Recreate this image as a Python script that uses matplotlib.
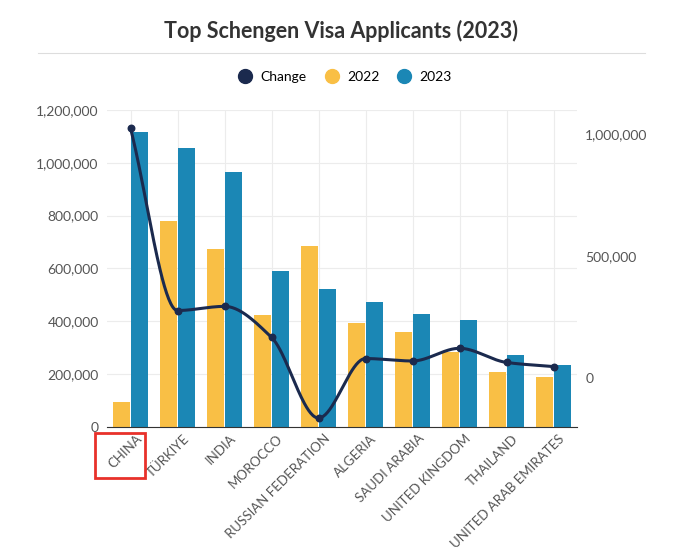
import matplotlib.pyplot as plt
import matplotlib.patches as patches
from matplotlib.lines import Line2D
from matplotlib.ticker import FuncFormatter
from matplotlib.transforms import ScaledTranslation
import numpy as np

plt.rcParams['font.family'] = ['Lato', 'DejaVu Sans']

countries = ['CHINA', 'TÜRKIYE', 'INDIA', 'MOROCCO', 'RUSSIAN FEDERATION', 'ALGERIA',
             'SAUDI ARABIA', 'UNITED KINGDOM', 'THAILAND', 'UNITED ARAB EMIRATES']
apps_2022 = [95000, 778000, 672000, 423000, 686000, 393000, 358000, 283000, 208000, 188000]
apps_2023 = [1115000, 1055000, 966000, 590000, 520000, 473000, 428000, 405000, 272000, 235000]
change = [1025000, 277000, 294000, 167000, -164000, 80000, 70000, 122000, 64000, 47000]

c22, c23, cline = '#F9BF45', '#1B87B5', '#1B2A4E'


def pchip(x, y, xs):
    # monotone cubic so the curve does not overshoot the points
    x = np.asarray(x, float); y = np.asarray(y, float)
    h = np.diff(x); d = np.diff(y) / h
    m = np.zeros_like(y)
    for i in range(1, len(y) - 1):
        if d[i - 1] * d[i] > 0:
            m[i] = 2 / (1 / d[i - 1] + 1 / d[i])
    m[0], m[-1] = d[0], d[-1]
    out = []
    for t in xs:
        i = max(min(int(np.searchsorted(x, t) - 1), len(x) - 2), 0)
        s = (t - x[i]) / h[i]
        h00 = 2*s**3 - 3*s**2 + 1; h10 = s**3 - 2*s**2 + s
        h01 = -2*s**3 + 3*s**2; h11 = s**3 - s**2
        out.append(h00*y[i] + h10*h[i]*m[i] + h01*y[i+1] + h11*h[i]*m[i+1])
    return np.array(out)


fig = plt.figure(figsize=(6.83, 5.55), dpi=100)
ax = fig.add_axes([107/683, 0.231, 470/683, 0.571])
x = np.arange(len(countries))
w = 0.36
ax.bar(x - 0.19, apps_2022, w, color=c22, zorder=2)
ax.bar(x + 0.19, apps_2023, w, color=c23, zorder=2)
ax.set_xlim(-0.5, 9.5)
ax.set_ylim(0, 1200000)
ax.set_yticks(np.arange(0, 1200001, 200000))
fmt = FuncFormatter(lambda v, p: f'{int(v):,}')
ax.yaxis.set_major_formatter(fmt)
ax.grid(True, color='#ececec', lw=0.8, zorder=0)
ax.set_axisbelow(True)
for s in ax.spines.values():
    s.set_visible(False)
ax.spines['bottom'].set_visible(True)
ax.spines['bottom'].set_color('#333333')
ax.tick_params(axis='y', length=0, labelsize=10, colors='#555555', pad=6)
ax.tick_params(axis='x', length=0, pad=4)
ax.set_xticks(x)
ax.set_xticklabels(countries, rotation=45, ha='right', rotation_mode='anchor',
                   fontsize=9.5, color='#555555')
for lab in ax.get_xticklabels():
    lab.set_transform(lab.get_transform() + ScaledTranslation(0.05, 0, fig.dpi_scale_trans))

ax2 = ax.twinx()
ax2.set_ylim(-200000, 1100000)
ax2.set_yticks([0, 500000, 1000000])
ax2.yaxis.set_major_formatter(fmt)
for s in ax2.spines.values():
    s.set_visible(False)
ax2.tick_params(axis='y', length=0, labelsize=10, colors='#555555', pad=6)
xs = np.linspace(0, 9, 400)
ax2.plot(xs, pchip(x, change, xs), color=cline, lw=2.2, zorder=3)
ax2.scatter(x, change, color=cline, s=22, zorder=4)

fig.text(0.5, 0.945, 'Top Schengen Visa Applicants (2023)', ha='center', va='center',
         fontsize=15.5, fontweight='bold', color='#333333')
fig.add_artist(Line2D([0.055, 0.945], [0.905, 0.905], color='#dddddd', lw=0.8))

handles = [Line2D([], [], marker='o', ls='', color=c, markersize=10) for c in (cline, c22, c23)]
fig.legend(handles, ['Change', '2022', '2023'], loc='center', bbox_to_anchor=(0.5, 0.862),
           ncol=3, frameon=False, fontsize=10, handletextpad=0.1, columnspacing=0.8)

fig.add_artist(patches.Rectangle((95/683, 1-478/555), 50/683, 45/555, fill=False,
                                 edgecolor='#E8312A', lw=2, transform=fig.transFigure))

fig.savefig('out.png', dpi=100, facecolor='white')
